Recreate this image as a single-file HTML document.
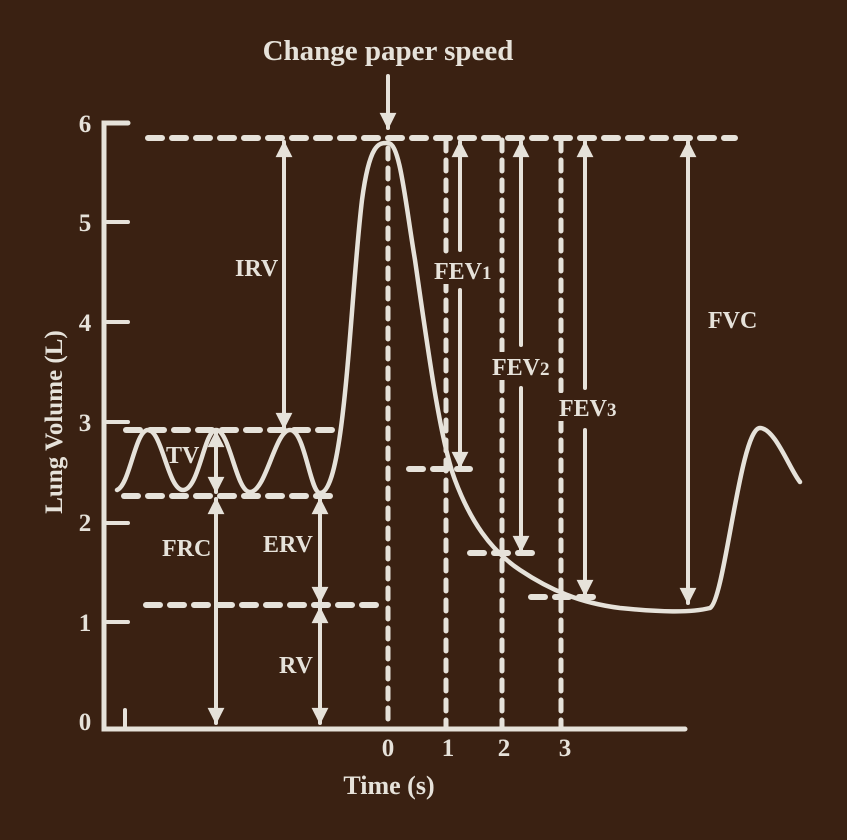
<!DOCTYPE html>
<html><head><meta charset="utf-8"><style>
html,body{margin:0;padding:0;background:#3a2112;}
svg{display:block}
text{font-family:"Liberation Serif",serif;font-weight:bold;fill:#e6e2da}
</style></head><body>
<svg width="847" height="840" viewBox="0 0 847 840" xmlns="http://www.w3.org/2000/svg">
<rect width="847" height="840" fill="#3a2112"/>
<defs>
<marker id="a" viewBox="0 0 10 10" refX="9" refY="5" markerWidth="4.6" markerHeight="4.2" orient="auto-start-reverse" markerUnits="strokeWidth"><path d="M0,0 L10,5 L0,10 z" fill="#e6e2da"/></marker>
</defs>
<g stroke="#e6e2da" fill="none" stroke-linecap="round">
<path d="M128,123 H104 V729 H685" stroke-width="5"/>
<g stroke-width="4">
<path d="M104,222 H128 M104,322 H128 M104,422 H128 M104,523 H128 M104,622 H128"/>
<path d="M125,710 V727"/>
</g>
<g stroke-width="6" stroke-dasharray="14,10">
<path d="M148,138 H735"/>
<path d="M126,430 H340"/>
<path d="M124,496 H336"/>
<path d="M146,605 H385"/>
<path d="M409,469 H470"/>
<path d="M470,553 H532"/>
<path d="M531,597 H593"/>
</g>
<g stroke-width="5" stroke-dasharray="11,9">
<path d="M388,148 V728"/>
<path d="M446,140 V728"/>
<path d="M502,140 V728"/>
<path d="M561,140 V728"/>
</g>
<path d="M117,490 C130,485 135,430 148,430 C162,430 168,490 183,490 C199,490 204,430 216,430 C230,430 236,492 250,492 C266,492 275,430 290,430 C305,430 310,493 320,493 C345,493 350,300 362,200 C370,140 380,143 388,143 C400,143 405,200 415,260 C428,350 440,440 455,480 C470,520 490,550 520,570 C550,590 580,603 620,608 C660,612 690,613 710,608 C725,600 740,428 760,428 C775,428 790,470 800,482" stroke-width="4.5"/>
<g stroke-width="4" marker-start="url(#a)" marker-end="url(#a)">
<path d="M284,142 V428"/>
<path d="M216,432 V492"/>
<path d="M216,499 V723"/>
<path d="M320,499 V602"/>
<path d="M320,608 V723"/>
<path d="M688,142 V603"/>
</g>
<g stroke-width="4">
<path d="M460,142 V250" marker-start="url(#a)"/>
<path d="M460,290 V467" marker-end="url(#a)"/>
<path d="M521,142 V345" marker-start="url(#a)"/>
<path d="M521,388 V551" marker-end="url(#a)"/>
<path d="M585,142 V388" marker-start="url(#a)"/>
<path d="M585,430 V595" marker-end="url(#a)"/>
<path d="M388,76 V128" marker-end="url(#a)"/>
</g>
</g>
<g fill="#3a2112">
<rect x="432" y="256" width="62" height="28"/>
<rect x="490" y="352" width="62" height="28"/>
<rect x="557" y="393" width="62" height="28"/>
</g>
<text x="388" y="60" font-size="29" text-anchor="middle">Change paper speed</text>
<g font-size="25" text-anchor="middle">
<text x="85" y="132">6</text><text x="85" y="231">5</text><text x="85" y="331">4</text>
<text x="85" y="431">3</text><text x="85" y="531">2</text><text x="85" y="631">1</text>
<text x="85" y="730">0</text>
<text x="388" y="756">0</text><text x="448" y="756">1</text><text x="504" y="756">2</text><text x="565" y="756">3</text>
</g>
<text x="389" y="794" font-size="26" text-anchor="middle">Time (s)</text>
<text transform="translate(62,422) rotate(-90)" font-size="25" text-anchor="middle">Lung Volume (L)</text>
<g font-size="24">
<text x="235" y="276">IRV</text>
<text x="166" y="463">TV</text>
<text x="162" y="556">FRC</text>
<text x="263" y="552">ERV</text>
<text x="279" y="673">RV</text>
<text x="434" y="279">FEV<tspan font-size="19">1</tspan></text>
<text x="492" y="375">FEV<tspan font-size="19">2</tspan></text>
<text x="559" y="416">FEV<tspan font-size="19">3</tspan></text>
<text x="708" y="328">FVC</text>
</g>
</svg>
</body></html>
